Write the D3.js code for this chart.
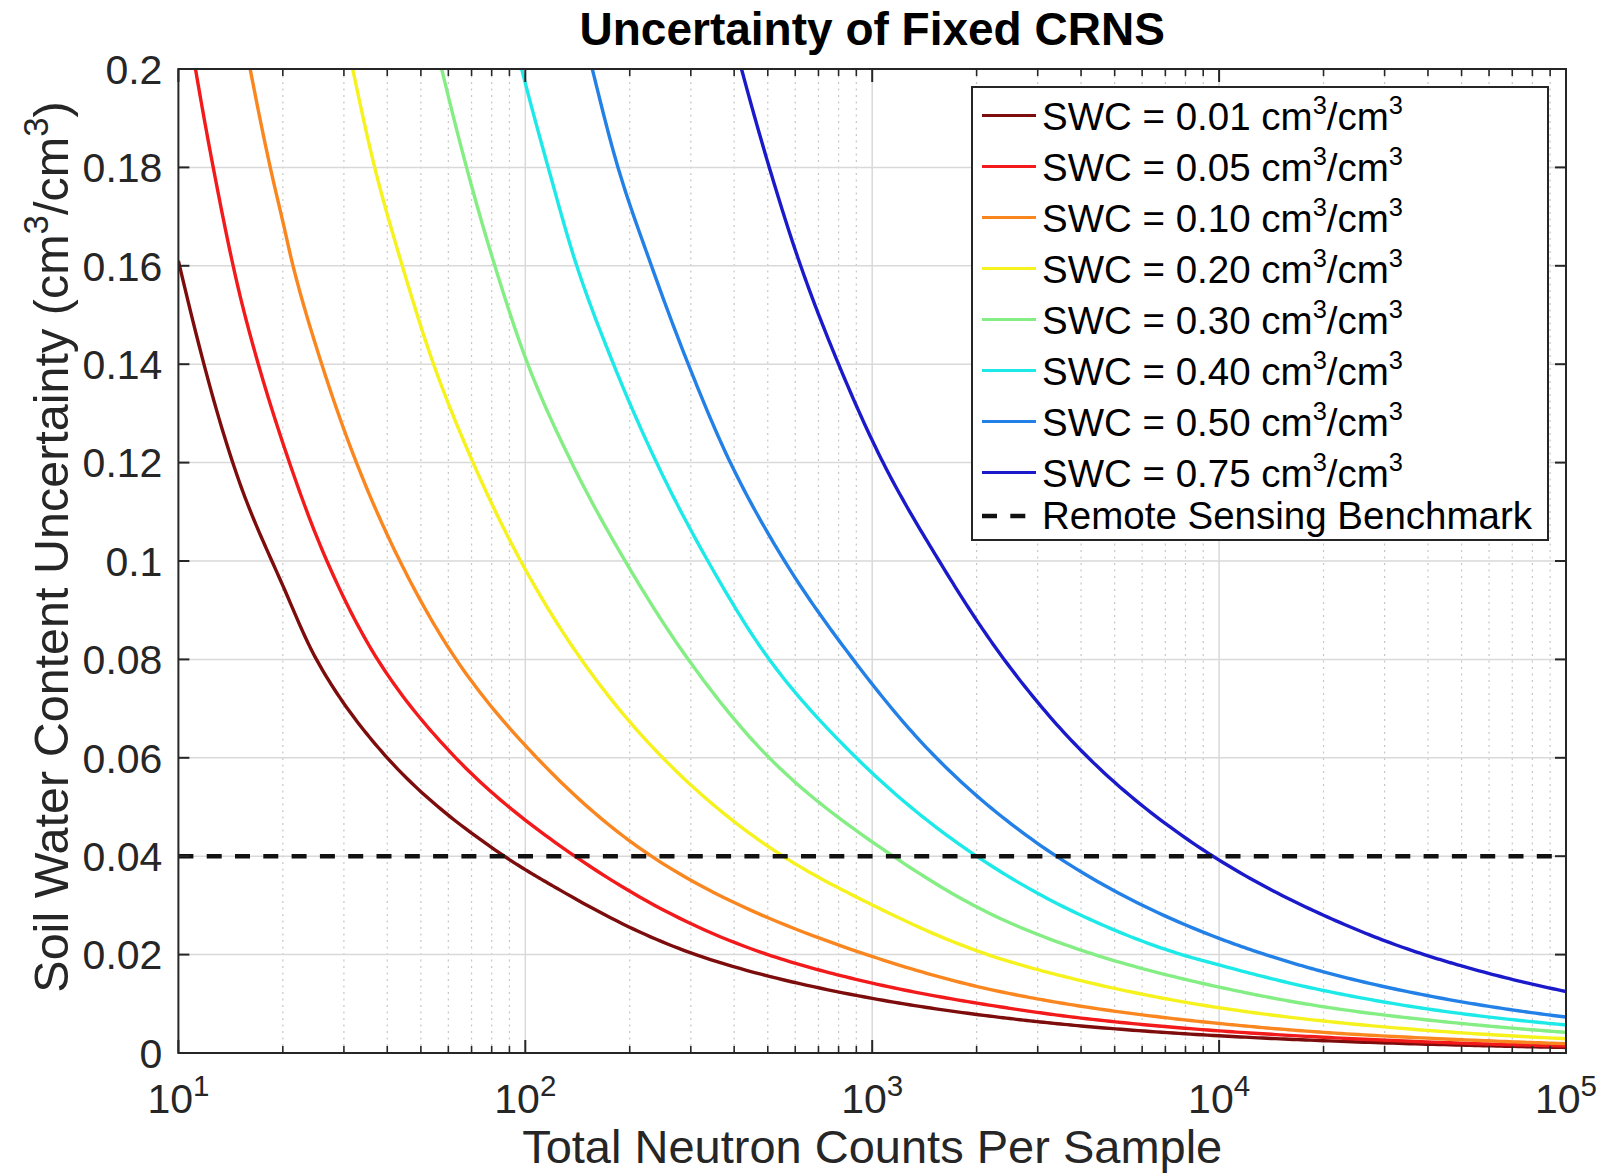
<!DOCTYPE html>
<html>
<head>
<meta charset="utf-8">
<script src="https://cdn.jsdelivr.net/npm/d3@7"></script>
<style>
  body { margin: 0; background: #fff; }
  svg { display: block; }
  text { font-family: "Liberation Sans", Arial, Helvetica, sans-serif; }
</style>
</head>
<body>
<svg id="chart" width="1608" height="1176"></svg>
<script>
// Soil water content levels (cm3/cm3) and their line colours (reversed jet map)
const swcLevels = ["0.01", "0.05", "0.10", "0.20", "0.30", "0.40", "0.50", "0.75"];
const seriesColors = ["#7d0c0c", "#f21a1a", "#fa8620", "#f6f21e", "#84ee84", "#1ee9e9", "#2280e6", "#1a1acb"];

// [total neutron counts, soil water content uncertainty] for each SWC level
const swc001 = [[10, 0.161], [15, 0.116], [20, 0.095], [25, 0.08], [40, 0.06], [87, 0.04], [126, 0.0331],
  [310, 0.02], [1000, 0.0111], [2330, 0.00725], [4000, 0.0055], [10000, 0.0035], [20000, 0.0025],
  [50000, 0.0016], [100000, 0.00112]];
const swc005 = [[11.2, 0.2], [12.6, 0.18], [15, 0.1544], [17, 0.14], [20, 0.124], [26.8, 0.1], [37.5, 0.08],
  [63, 0.06], [139, 0.04], [500, 0.02], [1000, 0.0142], [2330, 0.0094], [4000, 0.0071], [10000, 0.0045],
  [20000, 0.0032], [50000, 0.002], [100000, 0.00143]];
const swc010 = [[16.1, 0.2], [18.4, 0.18], [20, 0.169], [21.4, 0.16], [25.9, 0.14], [32.6, 0.12], [43.5, 0.1],
  [63.2, 0.08], [108, 0.06], [231, 0.04], [963, 0.02], [2330, 0.0125], [4000, 0.0095], [10000, 0.006],
  [20000, 0.0042], [50000, 0.0027], [100000, 0.0019]];
const swc020 = [[31.8, 0.2], [36.8, 0.18], [44.2, 0.16], [54.4, 0.14], [70.7, 0.12], [97, 0.1], [145, 0.08],
  [249, 0.06], [553, 0.04], [1000, 0.0301], [2330, 0.0192], [4000, 0.0147], [10000, 0.0092],
  [20000, 0.0065], [50000, 0.0041], [100000, 0.0029]];
const swc030 = [[57.4, 0.2], [67.7, 0.18], [81.7, 0.16], [101.7, 0.14], [136, 0.12], [194, 0.1], [295, 0.08],
  [505, 0.06], [1149, 0.04], [2330, 0.0274], [4000, 0.0209], [10000, 0.0134], [20000, 0.0094],
  [50000, 0.006], [100000, 0.0042]];
const swc040 = [[97.6, 0.2], [116.4, 0.18], [140.7, 0.16], [179.6, 0.14], [239, 0.12], [336, 0.1], [505, 0.08],
  [900, 0.06], [2000, 0.04], [4000, 0.028], [7800, 0.02], [10000, 0.0179], [20000, 0.0127],
  [50000, 0.008], [100000, 0.0057]];
const swc050 = [[156, 0.2], [185, 0.18], [231, 0.16], [295, 0.14], [390, 0.12], [559, 0.1], [881, 0.08],
  [1530, 0.06], [3395, 0.04], [10000, 0.0233], [13600, 0.02], [20000, 0.0165], [50000, 0.0104],
  [100000, 0.0073]];
const swc075 = [[420, 0.2], [505, 0.18], [622, 0.16], [800, 0.14], [1075, 0.12], [1560, 0.1], [2400, 0.08],
  [4200, 0.06], [9600, 0.04], [20000, 0.028], [39000, 0.02], [50000, 0.0177], [100000, 0.0125]];

// Remote sensing accuracy benchmark (cm3/cm3)
const benchmark = 0.04;

// Axis ticks
const xTickExponents = [1, 2, 3, 4, 5];
const yTicks = [0, 0.02, 0.04, 0.06, 0.08, 0.1, 0.12, 0.14, 0.16, 0.18, 0.2];
const yTickLabels = ["0", "0.02", "0.04", "0.06", "0.08", "0.1", "0.12", "0.14", "0.16", "0.18", "0.2"];

const seriesData = [swc001, swc005, swc010, swc020, swc030, swc040, swc050, swc075];

// ---- layout ----
const plot = { left: 178.4, right: 1566, top: 69, bottom: 1053 };
const axisColor = "#262626";
const fsTick = 41, fsXLabel = 47, fsYLabel = 48.5, fsTitle = 46, fsLegend = 38.5;

const svg = d3.select("#chart");
svg.append("rect").attr("width", 1608).attr("height", 1176).attr("fill", "#fff");

const x = d3.scaleLog().domain([10, 1e5]).range([plot.left, plot.right]);
const y = d3.scaleLinear().domain([0, 0.2]).range([plot.bottom, plot.top]);

// Text with superscript pieces
function richText(sel, parts, fs, supScale = 0.72) {
  const raise = fs * 0.42;
  let raised = false;
  parts.forEach(p => {
    const t = sel.append("tspan").text(p.t);
    if (p.sup) {
      t.attr("font-size", fs * supScale).attr("dy", -raise);
      raised = true;
    } else if (raised) {
      t.attr("dy", raise);
      raised = false;
    }
  });
  return sel;
}

// Path smoothing: the curves are close to straight in log-log space, so the
// drawn path follows a monotone cubic (PCHIP) through the points in that space.
function logLogPath(pts, steps = 24) {
  const X = pts.map(p => Math.log10(p[0]));
  const Y = pts.map(p => Math.log10(p[1]));
  const n = X.length;
  const h = [], d = [];
  for (let i = 0; i < n - 1; i++) {
    h.push(X[i + 1] - X[i]);
    d.push((Y[i + 1] - Y[i]) / h[i]);
  }
  const m = new Array(n);
  m[0] = d[0];
  m[n - 1] = d[n - 2];
  for (let i = 1; i < n - 1; i++) {
    if (d[i - 1] * d[i] <= 0) { m[i] = 0; continue; }
    const w1 = 2 * h[i] + h[i - 1], w2 = h[i] + 2 * h[i - 1];
    m[i] = (w1 + w2) / (w1 / d[i - 1] + w2 / d[i]);
  }
  const out = [];
  for (let i = 0; i < n - 1; i++) {
    for (let s = 0; s < steps; s++) {
      const t = s / steps, t2 = t * t, t3 = t2 * t;
      const yy = (2 * t3 - 3 * t2 + 1) * Y[i] + (t3 - 2 * t2 + t) * h[i] * m[i]
               + (-2 * t3 + 3 * t2) * Y[i + 1] + (t3 - t2) * h[i] * m[i + 1];
      out.push([Math.pow(10, X[i] + t * h[i]), Math.pow(10, yy)]);
    }
  }
  out.push(pts[n - 1]);
  return out;
}

// ---- grid ----
const grid = svg.append("g");
const minorTicks = [];
for (let e = 1; e < 5; e++) for (let k = 2; k <= 9; k++) minorTicks.push(k * Math.pow(10, e));

grid.selectAll(".minor").data(minorTicks).join("line")
  .attr("x1", d => x(d)).attr("x2", d => x(d))
  .attr("y1", plot.top).attr("y2", plot.bottom)
  .attr("stroke", "#c6c6c6").attr("stroke-width", 1.2).attr("stroke-dasharray", "2,4.5");

grid.selectAll(".vmajor").data(xTickExponents.slice(1, -1)).join("line")
  .attr("x1", d => x(Math.pow(10, d))).attr("x2", d => x(Math.pow(10, d)))
  .attr("y1", plot.top).attr("y2", plot.bottom)
  .attr("stroke", "#d9d9d9").attr("stroke-width", 1.5);

grid.selectAll(".hmajor").data(yTicks.slice(1, -1)).join("line")
  .attr("x1", plot.left).attr("x2", plot.right)
  .attr("y1", d => y(d)).attr("y2", d => y(d))
  .attr("stroke", "#d9d9d9").attr("stroke-width", 1.5);

// ---- curves ----
svg.append("clipPath").attr("id", "plotClip").append("rect")
  .attr("x", plot.left).attr("y", plot.top)
  .attr("width", plot.right - plot.left).attr("height", plot.bottom - plot.top);

const line = d3.line().x(d => x(d[0])).y(d => y(d[1]));

const curves = svg.append("g").attr("clip-path", "url(#plotClip)");
curves.selectAll("path").data(seriesData).join("path")
  .attr("d", d => line(logLogPath(d)))
  .attr("fill", "none")
  .attr("stroke", (d, i) => seriesColors[i])
  .attr("stroke-width", 3.4)
  .attr("stroke-linejoin", "round");

curves.append("line")
  .attr("x1", x(10)).attr("x2", x(1e5))
  .attr("y1", y(benchmark)).attr("y2", y(benchmark))
  .attr("stroke", "#111").attr("stroke-width", 4.5).attr("stroke-dasharray", "15,13.3");

// ---- axes box and inward ticks ----
const axes = svg.append("g").attr("stroke", axisColor).attr("fill", "none");
axes.append("rect")
  .attr("x", plot.left).attr("y", plot.top)
  .attr("width", plot.right - plot.left).attr("height", plot.bottom - plot.top)
  .attr("stroke-width", 2);

const majorLen = 13, minorLen = 7;
const xMajors = xTickExponents.map(e => Math.pow(10, e));
[[plot.bottom, -1], [plot.top, 1]].forEach(([yy, dir]) => {
  axes.selectAll(null).data(xMajors).join("line")
    .attr("x1", d => x(d)).attr("x2", d => x(d))
    .attr("y1", yy).attr("y2", yy + dir * majorLen).attr("stroke-width", 2);
  axes.selectAll(null).data(minorTicks).join("line")
    .attr("x1", d => x(d)).attr("x2", d => x(d))
    .attr("y1", yy).attr("y2", yy + dir * minorLen).attr("stroke-width", 1.6);
});
[[plot.left, 1], [plot.right, -1]].forEach(([xx, dir]) => {
  axes.selectAll(null).data(yTicks).join("line")
    .attr("x1", xx).attr("x2", xx + dir * 11)
    .attr("y1", d => y(d)).attr("y2", d => y(d)).attr("stroke-width", 2);
});

// ---- tick labels ----
const labels = svg.append("g").attr("fill", axisColor);
labels.selectAll(".ytl").data(yTicks).join("text")
  .attr("x", plot.left - 16)
  .attr("y", d => y(d) + fsTick * 0.36)
  .attr("text-anchor", "end")
  .attr("font-size", fsTick)
  .text((d, i) => yTickLabels[i]);

xTickExponents.forEach(e => {
  const t = labels.append("text")
    .attr("x", x(Math.pow(10, e)))
    .attr("y", 1113)
    .attr("text-anchor", "middle")
    .attr("font-size", fsTick);
  richText(t, [{ t: "10" }, { t: String(e), sup: true }], fsTick);
});

// ---- axis titles ----
svg.append("text")
  .attr("x", (plot.left + plot.right) / 2).attr("y", 1163)
  .attr("text-anchor", "middle").attr("font-size", fsXLabel).attr("fill", axisColor)
  .text("Total Neutron Counts Per Sample");

const yl = svg.append("text")
  .attr("transform", `translate(68, ${(plot.top + plot.bottom) / 2 - 14}) rotate(-90)`)
  .attr("text-anchor", "middle").attr("font-size", fsYLabel).attr("fill", axisColor);
richText(yl, [{ t: "Soil Water Content Uncertainty (cm" }, { t: "3", sup: true }, { t: "/cm" },
  { t: "3", sup: true }, { t: ")" }], fsYLabel);

svg.append("text")
  .attr("x", (plot.left + plot.right) / 2).attr("y", 45)
  .attr("text-anchor", "middle").attr("font-size", fsTitle).attr("font-weight", "bold")
  .attr("fill", "#000")
  .text("Uncertainty of Fixed CRNS");

// ---- legend ----
const legend = svg.append("g");
legend.append("rect")
  .attr("x", 972).attr("y", 87).attr("width", 576).attr("height", 453)
  .attr("fill", "#fff").attr("stroke", axisColor).attr("stroke-width", 2);

const rowY = i => 115.5 + i * 51;
swcLevels.forEach((lvl, i) => {
  const ry = rowY(i);
  legend.append("line")
    .attr("x1", 982).attr("x2", 1036).attr("y1", ry).attr("y2", ry)
    .attr("stroke", seriesColors[i]).attr("stroke-width", 3.2);
  const t = legend.append("text")
    .attr("x", 1042).attr("y", ry + 14.5)
    .attr("font-size", fsLegend).attr("fill", "#000");
  richText(t, [{ t: `SWC = ${lvl} cm` }, { t: "3", sup: true }, { t: "/cm" }, { t: "3", sup: true }],
    fsLegend, 0.66);
});
const benchY = 516;
legend.append("line")
  .attr("x1", 982).attr("x2", 1036).attr("y1", benchY).attr("y2", benchY)
  .attr("stroke", "#111").attr("stroke-width", 4.5).attr("stroke-dasharray", "15,13.3");
legend.append("text")
  .attr("x", 1042).attr("y", benchY + 13)
  .attr("font-size", fsLegend).attr("fill", "#000")
  .text("Remote Sensing Benchmark");
</script>
</body>
</html>
